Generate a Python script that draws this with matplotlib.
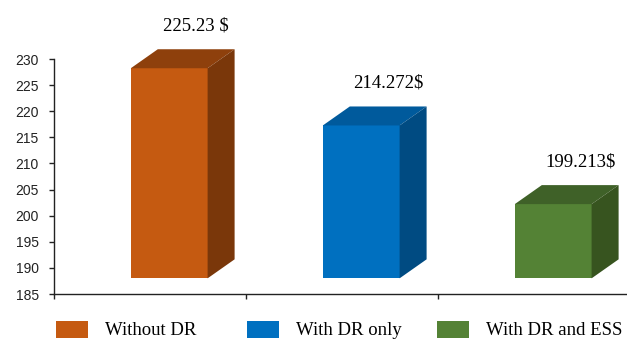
import numpy as np
import matplotlib.pyplot as plt
from matplotlib.patches import Polygon, Rectangle

# =========================
# DATA
# =========================

scenarios = ["Without DR", "With DR only", "With DR and ESS"]
costs = [225.23, 214.272, 199.213]
cost_labels = ["225.23 $", "214.272$", "199.213$"]

front_colors = ["#C55A11", "#0070C0", "#548235"]
top_colors = ["#8E400C", "#005A9C", "#3F6128"]
side_colors = ["#7A370A", "#004B82", "#37541F"]

yticks = np.arange(185, 231, 5)

# =========================
# FIGURE
# =========================

W, H = 627, 342
fig = plt.figure(figsize=(W / 100, H / 100), dpi=100)

ax_left, ax_bottom, ax_top = 54, 48, 59
ax = fig.add_axes([ax_left / W, ax_bottom / H, (W - ax_left) / W, (H - ax_bottom - ax_top) / H])

px_per_cat = 192
ax.set_xlim(0, (W - ax_left) / px_per_cat)
ax.set_ylim(185, 230)

px_per_unit = (H - ax_bottom - ax_top) / 45.0

# 3D look : front face + top + side
lift = 3.0                  # perspective lift of the front face
base = 185 + lift
x_off, width = 0.40, 0.40
dx = 27 / px_per_cat
dy = 19 / px_per_unit

for i, v in enumerate(costs):
    x0 = i + x_off
    x1 = x0 + width
    top = v + lift

    front = Polygon([(x0, base), (x1, base), (x1, top), (x0, top)],
                    closed=True, facecolor=front_colors[i], edgecolor="none",
                    clip_on=False, zorder=3)
    lid = Polygon([(x0, top), (x1, top), (x1 + dx, top + dy), (x0 + dx, top + dy)],
                  closed=True, facecolor=top_colors[i], edgecolor="none",
                  clip_on=False, zorder=3)
    side = Polygon([(x1, base), (x1 + dx, base + dy), (x1 + dx, top + dy), (x1, top)],
                   closed=True, facecolor=side_colors[i], edgecolor="none",
                   clip_on=False, zorder=3)
    ax.add_patch(front)
    ax.add_patch(lid)
    ax.add_patch(side)

    ax.annotate(cost_labels[i], xy=(x0 + width / 2 + dx, top + dy),
                xytext=(0, 13.7), textcoords="offset points",
                ha="center", va="baseline", fontsize=13.5,
                family="Liberation Serif", color="black", annotation_clip=False)

# =========================
# AXES STYLE
# =========================

for s in ["top", "right"]:
    ax.spines[s].set_visible(False)
ax.spines["left"].set_color("#222222")
ax.spines["bottom"].set_color("#222222")
ax.spines["left"].set_linewidth(1.0)
ax.spines["bottom"].set_linewidth(1.0)

ax.set_yticks(yticks)
ax.set_yticklabels([str(t) for t in yticks], family="Liberation Sans", fontsize=10, color="#222222")
ax.tick_params(axis="y", direction="out", length=3.5, width=1.0, pad=7.5, color="#222222")

ax.set_xticks([0, 1, 2])
ax.set_xticklabels([])
ax.tick_params(axis="x", direction="out", length=3.5, width=1.0, color="#222222")

# =========================
# LEGEND
# =========================

for i, name in enumerate(scenarios):
    sx = 56 + 190.5 * i
    fig.patches.append(Rectangle((sx / W, 4 / H), 32 / W, 17 / H,
                                 transform=fig.transFigure, facecolor=front_colors[i],
                                 edgecolor="none"))
    fig.text((sx + 49) / W, 11.5 / H, name, ha="left", va="center",
             fontsize=13.5, family="Liberation Serif", color="black")

fig.savefig("out.png", dpi=100)
